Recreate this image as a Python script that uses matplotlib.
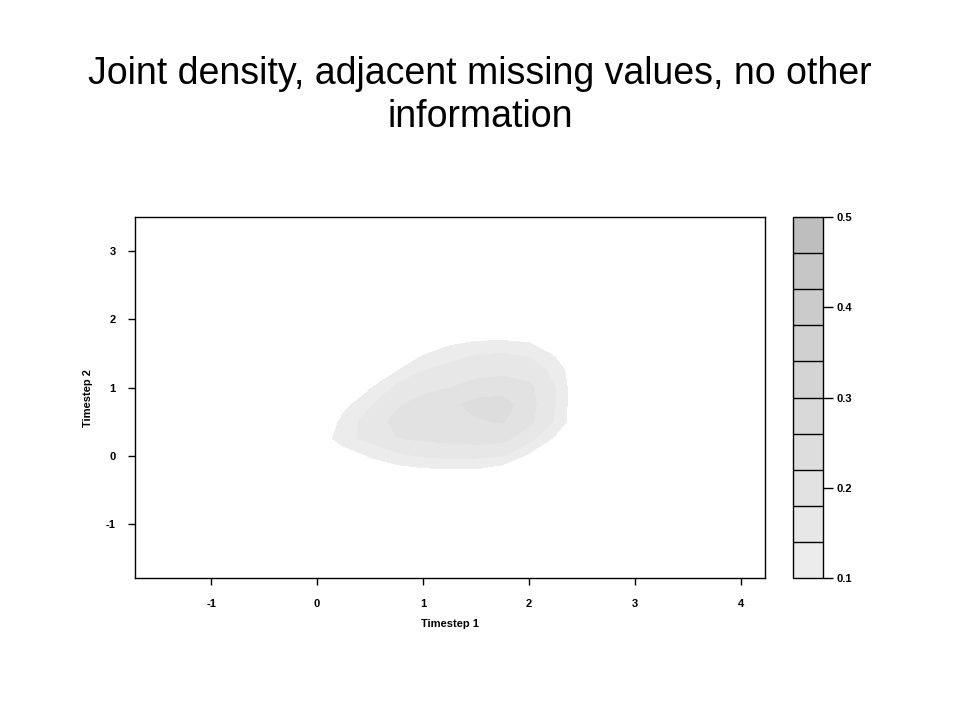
import numpy as np
import matplotlib
matplotlib.use("Agg")
import matplotlib.pyplot as plt

plt.rcParams['font.family'] = ['Liberation Sans', 'DejaVu Sans']

# density grid (rows = y_grid, cols = x_grid)
x_grid = [-0.25, 0.0, 0.25, 0.5, 0.75, 1.0, 1.25, 1.5, 1.75, 2.0, 2.25, 2.5, 2.75]
y_grid = [-0.5, -0.25, 0.0, 0.25, 0.5, 0.75, 1.0, 1.25, 1.5, 1.75, 2.0]
density = [
    [0.0, 0.005, 0.01, 0.015, 0.025, 0.03, 0.035, 0.035, 0.03, 0.02, 0.01, 0.0, 0.0],
    [0.005, 0.01, 0.025, 0.05, 0.07, 0.08, 0.085, 0.085, 0.06, 0.045, 0.02, 0.005, 0.0],
    [0.01, 0.02, 0.06, 0.105, 0.13, 0.145, 0.15, 0.148, 0.143, 0.09, 0.045, 0.015, 0.005],
    [0.02, 0.06, 0.13, 0.15, 0.178, 0.185, 0.19, 0.195, 0.19, 0.155, 0.09, 0.03, 0.01],
    [0.03, 0.04, 0.115, 0.16, 0.19, 0.195, 0.205, 0.215, 0.223, 0.19, 0.135, 0.05, 0.02],
    [0.02, 0.04, 0.085, 0.135, 0.175, 0.195, 0.21, 0.235, 0.24, 0.195, 0.14, 0.05, 0.02],
    [0.01, 0.02, 0.05, 0.095, 0.15, 0.17, 0.179, 0.195, 0.2, 0.19, 0.14, 0.05, 0.02],
    [0.01, 0.01, 0.03, 0.06, 0.098, 0.14, 0.155, 0.165, 0.17, 0.16, 0.13, 0.045, 0.015],
    [0.0, 0.01, 0.02, 0.035, 0.065, 0.095, 0.12, 0.138, 0.14, 0.135, 0.09, 0.03, 0.01],
    [0.0, 0.005, 0.01, 0.02, 0.035, 0.055, 0.075, 0.085, 0.087, 0.08, 0.05, 0.015, 0.005],
    [0.0, 0.0, 0.0, 0.005, 0.01, 0.02, 0.03, 0.035, 0.035, 0.03, 0.02, 0.005, 0.0],
]
levels = [0.10, 0.14, 0.18, 0.22, 0.26, 0.30, 0.34, 0.38, 0.42, 0.46, 0.50]
shades = ['#ececec', '#e7e7e7', '#e2e2e2', '#dddddd', '#d9d9d9',
          '#d4d4d4', '#d0d0d0', '#cbcbcb', '#c6c6c6', '#bebebe']
x_ticks = [-1, 0, 1, 2, 3, 4]
y_ticks = [-1, 0, 1, 2, 3]
cbar_ticks = [0.1, 0.2, 0.3, 0.4, 0.5]

fig = plt.figure(figsize=(9.6, 7.2), dpi=100)
fig.text(0.5, 0.867, "Joint density, adjacent missing values, no other\ninformation",
         ha='center', va='center', fontsize=27, linespacing=1.25)

ax = fig.add_axes([0.1406, 0.1972, 0.6563, 0.5014])
cs = ax.contourf(x_grid, y_grid, np.array(density), levels=levels, colors=shades)
ax.set_xlim(-1.72, 4.23)
ax.set_ylim(-1.79, 3.5)
ax.set_xticks(x_ticks)
ax.set_yticks(y_ticks)
ax.set_xticklabels([str(t) for t in x_ticks], fontweight='bold')
ax.set_yticklabels([str(t) for t in y_ticks], fontweight='bold')
ax.tick_params(labelsize=8, length=5, width=1)
ax.tick_params(axis='x', pad=10)
ax.tick_params(axis='y', pad=9)
ax.set_xlabel("Timestep 1", fontsize=8, fontweight='bold', labelpad=7)
ax.set_ylabel("Timestep 2", fontsize=8, fontweight='bold', labelpad=9)
for s in ax.spines.values():
    s.set_linewidth(1)

cax = fig.add_axes([0.826, 0.1972, 0.0313, 0.5014])
cb = fig.colorbar(cs, cax=cax, drawedges=True)
cb.dividers.set_color('black')
cb.dividers.set_linewidth(1)
cb.outline.set_linewidth(1)
cb.set_ticks(cbar_ticks)
cb.set_ticklabels([f"{t:.1f}" for t in cbar_ticks])
cax.tick_params(labelsize=8, length=7, width=1, pad=3)
for lab in cax.get_yticklabels():
    lab.set_fontweight('bold')

fig.savefig("out.png", dpi=100)
